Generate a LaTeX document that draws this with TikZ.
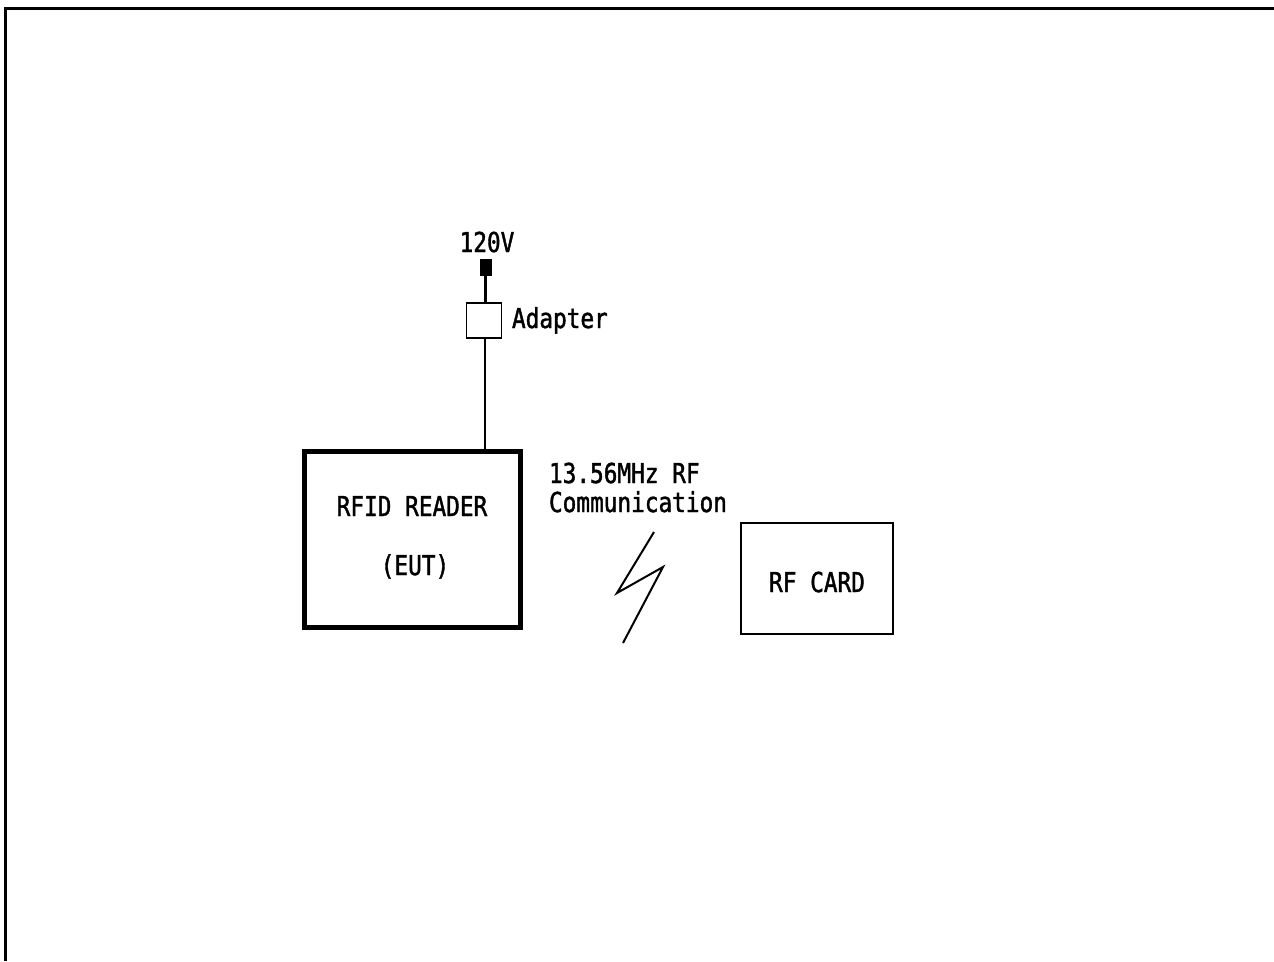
\documentclass[tikz,border=0pt]{standalone}
\usepackage{fontspec}
\newfontfamily\gul[FakeStretch=0.83,FakeBold=1.5]{DejaVu Sans Mono}
\begin{document}
\begin{tikzpicture}[x=1pt,y=-1pt,
  lbl/.style={font=\gul\fontsize{27.4}{30}\selectfont, inner sep=0pt, outer sep=0pt},
  box/.style={draw, rectangle, inner sep=0pt, outer sep=0pt}]
\useasboundingbox (0,0) rectangle (1274,961);
\fill[white] (0,0) rectangle (1274,961);
% frame
\draw[line width=3pt] (5.5,961) -- (5.5,8.5) -- (1274,8.5);
% nodes
\node[box, fill=black, minimum width=11pt, minimum height=16pt] (plug) at (485.5,267.5) {};
\node[box, line width=1.5pt, minimum width=35pt, minimum height=35pt] (adapter) at (484,320.5) {};
\node[box, line width=5pt, minimum width=216pt, minimum height=176pt] (reader) at (412.5,539.5) {};
\node[box, line width=1.5pt, minimum width=152pt, minimum height=111pt] (card) at (817,578.5) {};
% labels
\node[lbl, anchor=base] (v) at (487,252) {120V};
\node[lbl, anchor=base west] (adl) at (512,328) {Adapter};
\node[lbl, anchor=base] (r1) at (412,516) {RFID READER};
\node[lbl, anchor=base] (r2) at (415,575) {(EUT)};
\node[lbl, anchor=base west] (f1) at (549,483) {13.56MHz RF};
\node[lbl, anchor=base west] (f2) at (549,512) {Communication};
\node[lbl, anchor=base] (c1) at (817,592) {RF CARD};
% connectors
\draw[line width=3pt] (plug.south -| 485,0) -- (adapter.north -| 485,0);
\draw[line width=1.5pt] (adapter.south -| 485,0) -- (reader.north -| 485,0);
% lightning
\draw[line width=2pt, line join=miter] (654,532) -- (617,593) -- (663,567) -- (623,643);
\end{tikzpicture}
\end{document}
